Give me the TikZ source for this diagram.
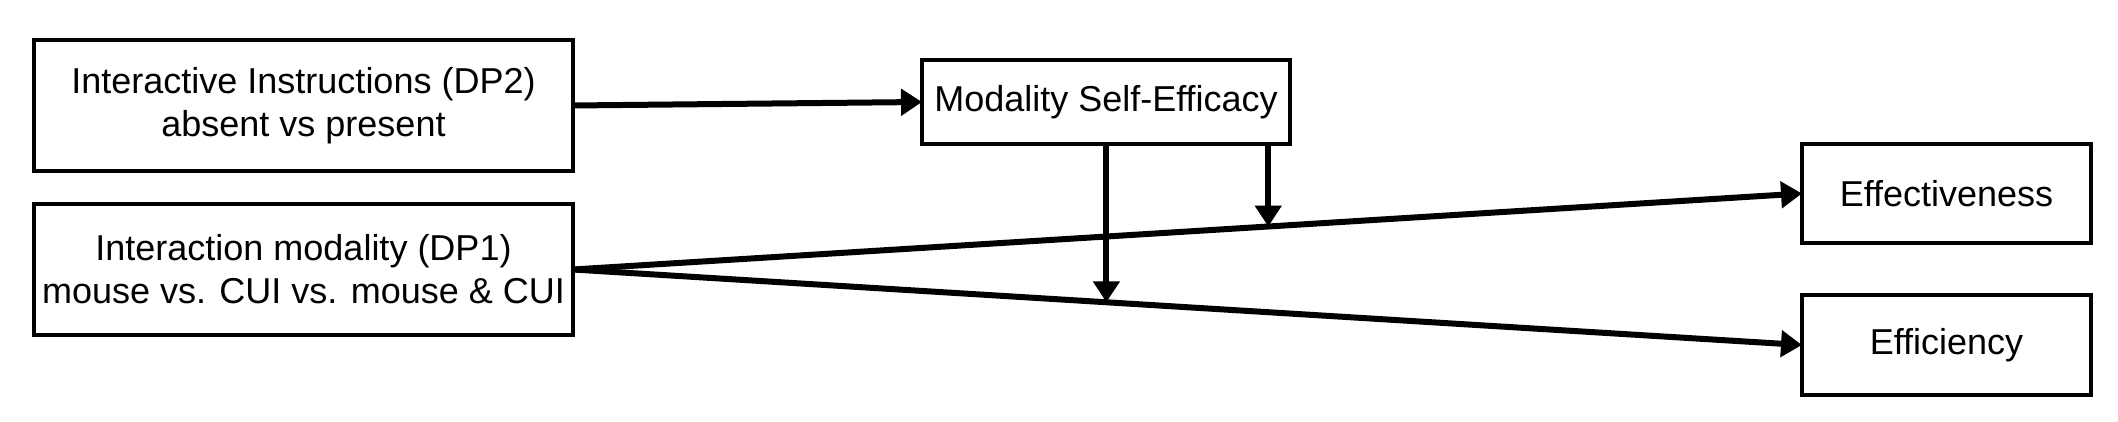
\documentclass[tikz,border=0pt]{standalone}
\usepackage{fontspec}
\setmainfont{Liberation Sans}
\usetikzlibrary{arrows.meta}
\tikzset{
  box/.style={draw=black, line width=4.5pt, inner sep=0pt, outer sep=0pt, align=center,
    font=\fontsize{36}{43}\selectfont},
  arr/.style={line width=6pt, -{Triangle[length=21pt,width=26pt]}}
}
\begin{document}
\begin{tikzpicture}[x=1pt,y=-1pt]
\useasboundingbox (0,0) rectangle (2118,422);
\node[box, minimum width=539pt, minimum height=131pt] (dp2) at (303.5,105.5)
  {Interactive Instructions (DP2)\\absent vs present};
\node[box, minimum width=539pt, minimum height=131pt] (dp1) at (303.5,269.5)
  {Interaction modality (DP1)\\mouse vs. CUI vs. mouse \& CUI};
\node[box, minimum width=368pt, minimum height=84pt] (mse) at (1106,102)
  {Modality Self-Efficacy};
\node[box, minimum width=289pt, minimum height=99pt] (eff) at (1946.5,193.5)
  {Effectiveness};
\node[box, minimum width=289pt, minimum height=100pt] (effi) at (1946.5,345)
  {Efficiency};
\draw[arr] (dp2.east) -- (mse.west);
\draw[arr] (dp1.east) -- (eff.west);
\draw[arr] (dp1.east) -- (effi.west);
\path (dp1.east) -- (eff.west) coordinate[pos=0.5657] (m2);
\path (dp1.east) -- (effi.west) coordinate[pos=0.434] (m1);
\draw[arr] (mse.south -| m1) -- (m1);
\draw[arr] (mse.south -| m2) -- (m2);
\end{tikzpicture}
\end{document}
